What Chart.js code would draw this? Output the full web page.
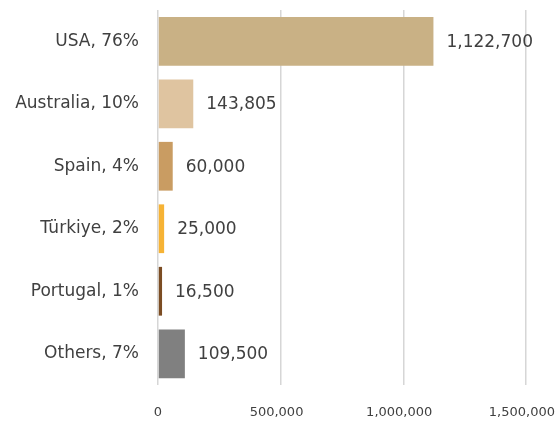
<!DOCTYPE html>
<html>
<head>
<meta charset="utf-8">
<script src="https://cdn.jsdelivr.net/npm/chart.js@4/dist/chart.umd.min.js"></script>
<style>
html,body{margin:0;padding:0;background:#fff;}
#wrap{width:556px;height:424px;position:relative;}
</style>
</head>
<body>
<div id="wrap"><canvas id="c" width="556" height="424"></canvas></div>
<script>
const categories = ["USA, 76%", "Australia, 10%", "Spain, 4%", "Türkiye, 2%", "Portugal, 1%", "Others, 7%"];
const values = [1122700, 143805, 60000, 25000, 16500, 109500];
const barColors = ["#C9B185", "#DFC4A0", "#C99C62", "#F6B335", "#7B4C23", "#808080"];
const xTicks = [0, 500000, 1000000, 1500000];

const FONT = '"DejaVu Sans", Verdana, sans-serif';
const fmt = v => v.toLocaleString('en-US');

const valueLabels = {
  id: 'valueLabels',
  afterDatasetsDraw(chart) {
    const ctx = chart.ctx;
    const meta = chart.getDatasetMeta(0);
    ctx.save();
    ctx.font = '17px ' + FONT;
    ctx.fillStyle = '#404040';
    ctx.textAlign = 'left';
    ctx.textBaseline = 'middle';
    meta.data.forEach((bar, i) => {
      ctx.fillText(fmt(values[i]), bar.x + 13, bar.y + 1);
    });
    ctx.restore();
  }
};

new Chart(document.getElementById('c'), {
  type: 'bar',
  data: {
    labels: categories,
    datasets: [{
      data: values,
      backgroundColor: barColors,
      borderWidth: 0,
      categoryPercentage: 0.78,
      barPercentage: 1
    }]
  },
  options: {
    indexAxis: 'y',
    responsive: false,
    animation: false,
    devicePixelRatio: 1,
    layout: { padding: { top: 10, right: 30, left: 0, bottom: 0 } },
    plugins: { legend: { display: false }, tooltip: { enabled: false } },
    scales: {
      x: {
        min: 0, max: 1500000,
        afterBuildTicks: s => { s.ticks = xTicks.map(v => ({ value: v })); },
        afterFit: s => { s.height = 39; s.paddingLeft = 0; s.paddingRight = 0; },
        grid: { color: '#d6d6d6', lineWidth: 1.5, drawTicks: false },
        border: { display: false },
        ticks: {
          padding: 20,
          autoSkip: false,
          maxRotation: 0,
          color: '#404040',
          font: { family: FONT, size: 13 },
          callback: v => v === 0 ? '0' : fmt(v) + '  '
        }
      },
      y: {
        afterFit: s => { s.width = 158; s.paddingTop = 0; s.paddingBottom = 0; },
        grid: { display: false, drawTicks: false },
        border: { display: false },
        ticks: {
          padding: 19,
          color: '#404040',
          font: { family: FONT, size: 17 }
        }
      }
    }
  },
  plugins: [valueLabels]
});
</script>
</body>
</html>
